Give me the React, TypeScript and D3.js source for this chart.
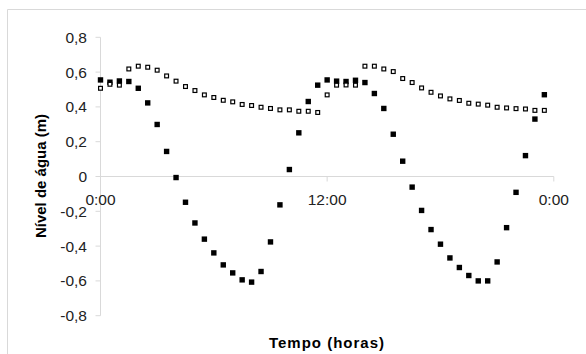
import React from "react";
import * as d3 from "d3";

// Water level readings every 30 minutes over one day (0:00 – 23:30)
const hours: number[] = Array.from({ length: 48 }, (_, i) => i * 0.5);

// Filled squares: tidal water level (m)
const levelA: number[] = [
  0.555, 0.542, 0.549, 0.546, 0.507, 0.423, 0.299, 0.144, -0.006, -0.148,
  -0.267, -0.36, -0.439, -0.508, -0.554, -0.594, -0.607, -0.546, -0.376, -0.163,
  0.04, 0.251, 0.431, 0.525, 0.555, 0.548, 0.546, 0.553, 0.54, 0.477,
  0.391, 0.243, 0.088, -0.061, -0.195, -0.305, -0.389, -0.468, -0.523, -0.569,
  -0.6, -0.6, -0.491, -0.294, -0.091, 0.12, 0.33, 0.47,
];

// Open squares: water level (m)
const levelB: number[] = [
  0.507, 0.53, 0.525, 0.618, 0.634, 0.628, 0.611, 0.578, 0.548, 0.517,
  0.494, 0.469, 0.454, 0.438, 0.429, 0.414, 0.408, 0.398, 0.391, 0.383,
  0.383, 0.375, 0.375, 0.368, 0.469, 0.525, 0.526, 0.525, 0.634, 0.634,
  0.618, 0.603, 0.563, 0.54, 0.509, 0.484, 0.463, 0.446, 0.437, 0.421,
  0.416, 0.41, 0.398, 0.394, 0.39, 0.388, 0.38, 0.38,
];

const yTicks: number[] = [0.8, 0.6, 0.4, 0.2, 0, -0.2, -0.4, -0.6, -0.8];
const xTicks: number[] = [0, 12, 24];
const xTickLabels: string[] = ["0:00", "12:00", "0:00"];

const W = 586;
const H = 354;
const FONT = "'Liberation Sans', Arial, sans-serif";

export default function App() {
  const x = d3.scaleLinear().domain([0, 24]).range([100.5, 553.8]);
  const y = d3.scaleLinear().domain([-0.8, 0.8]).range([315.7, 37.3]);
  const fmt = (v: number) =>
    v === 0 ? "0" : d3.format(".1f")(v).replace("\u2212", "-").replace(".", ",");
  const axisColor = "#d9d9d9";
  const fs = 15.5;
  const sA = 5.4;
  const sB = 3.8;

  return (
    <svg
      width={W}
      height={H}
      style={{ position: "absolute", left: 0, top: 0, background: "#fff" }}
      fontFamily={FONT}
    >
      <rect x={0} y={0} width={W} height={H} fill="#fff" />
      {/* chart frame */}
      <line x1={7.5} y1={9.5} x2={W} y2={9.5} stroke={axisColor} />
      <line x1={7.5} y1={9.5} x2={7.5} y2={H} stroke={axisColor} />

      {/* y axis */}
      <line x1={x(0)} y1={y(0.8)} x2={x(0)} y2={y(-0.8)} stroke={axisColor} />
      {yTicks.map((t) => (
        <g key={t}>
          <line x1={x(0) - 5} y1={y(t)} x2={x(0)} y2={y(t)} stroke={axisColor} />
          <text
            x={87}
            y={y(t)}
            dy="0.36em"
            textAnchor="end"
            fontSize={fs}
            fill="#222"
          >
            {fmt(t)}
          </text>
        </g>
      ))}

      {/* x axis at zero */}
      <line x1={x(0)} y1={y(0)} x2={x(24)} y2={y(0)} stroke={axisColor} />
      {xTicks.map((t, i) => (
        <g key={i}>
          <line x1={x(t)} y1={y(0)} x2={x(t)} y2={y(0) + 5} stroke={axisColor} />
          <text
            x={x(t)}
            y={205}
            textAnchor="middle"
            fontSize={fs}
            fill="#222"
          >
            {xTickLabels[i]}
          </text>
        </g>
      ))}

      {/* series A: filled squares */}
      {levelA.map((v, i) => (
        <rect
          key={"a" + i}
          x={x(hours[i]) - sA / 2}
          y={y(v) - sA / 2}
          width={sA}
          height={sA}
          fill="#000"
        />
      ))}

      {/* series B: open squares */}
      {levelB.map((v, i) => (
        <rect
          key={"b" + i}
          x={x(hours[i]) - sB / 2}
          y={y(v) - sB / 2}
          width={sB}
          height={sB}
          fill="#fff"
          stroke="#000"
          strokeWidth={1.2}
        />
      ))}

      {/* axis titles */}
      <text
        transform={`translate(46,176) rotate(-90)`}
        textAnchor="middle"
        fontSize={15}
        fontWeight="bold"
        fill="#000"
      >
        Nível de água (m)
      </text>
      <text
        x={327}
        y={348}
        textAnchor="middle"
        fontSize={15}
        fontWeight="bold"
        letterSpacing={1}
        fill="#000"
      >
        Tempo (horas)
      </text>
    </svg>
  );
}
